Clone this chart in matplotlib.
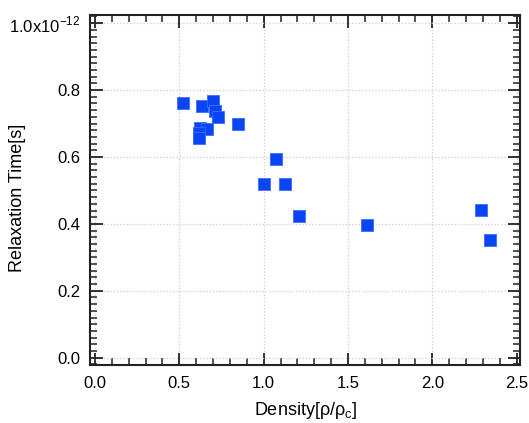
import matplotlib
matplotlib.use('Agg')
import matplotlib.pyplot as plt
from matplotlib.ticker import MultipleLocator, FuncFormatter

plt.rcParams['font.family'] = ['Liberation Sans', 'DejaVu Sans']
plt.rcParams['mathtext.fontset'] = 'custom'
plt.rcParams['mathtext.rm'] = 'Liberation Sans'

# data (time in units of 1e-12 s)
density = [0.52, 0.635, 0.698, 0.712, 0.728, 0.849, 0.625, 0.665, 0.615, 0.615,
           1.073, 1.004, 1.129, 1.212, 1.611, 2.29, 2.34]
relax_time = [0.761, 0.752, 0.768, 0.737, 0.72, 0.698, 0.687, 0.685, 0.671, 0.656,
              0.593, 0.519, 0.519, 0.424, 0.397, 0.441, 0.352]

fig = plt.figure(figsize=(5.29, 4.23), dpi=100)
ax = fig.add_axes([0.170, 0.137, 0.813, 0.828])

ax.scatter(density, relax_time, marker='s', s=85, color='#0a45f5',
           edgecolors='#3a6cff', linewidths=0.6, zorder=3)

ax.set_xlim(-0.03, 2.52)
ax.set_ylim(-0.022, 1.025)

ax.xaxis.set_major_locator(MultipleLocator(0.5))
ax.xaxis.set_minor_locator(MultipleLocator(0.1))
ax.yaxis.set_major_locator(MultipleLocator(0.2))
ax.yaxis.set_minor_locator(MultipleLocator(0.02))

def yfmt(v, pos):
    if abs(v - 1.0) < 1e-6:
        return r'1.0x10$^{\mathrm{-12}}$'
    return '%.1f' % v
ax.yaxis.set_major_formatter(FuncFormatter(yfmt))

ax.tick_params(which='both', direction='in', top=True, right=True,
               color='#222222', labelsize=12)
ax.tick_params(which='major', length=9, width=1.3)
ax.tick_params(which='minor', length=5, width=1.1)
ax.tick_params(axis='x', pad=8)
ax.tick_params(axis='y', pad=7)

ax.grid(True, which='major', linestyle=':', color='#c8c8ee', linewidth=0.9)
ax.set_axisbelow(True)

for sp in ax.spines.values():
    sp.set_linewidth(1.5)
    sp.set_color('#222222')

# axis titles placed where the reference has them
fig.text(0.577, 0.030, r'Density[ρ/ρ$_{\mathrm{c}}$]', fontsize=13,
         ha='center', va='center')
fig.text(0.034, 0.532, 'Relaxation Time[s]', fontsize=13, rotation=90,
         ha='center', va='center')

fig.savefig('out.png', dpi=100)
